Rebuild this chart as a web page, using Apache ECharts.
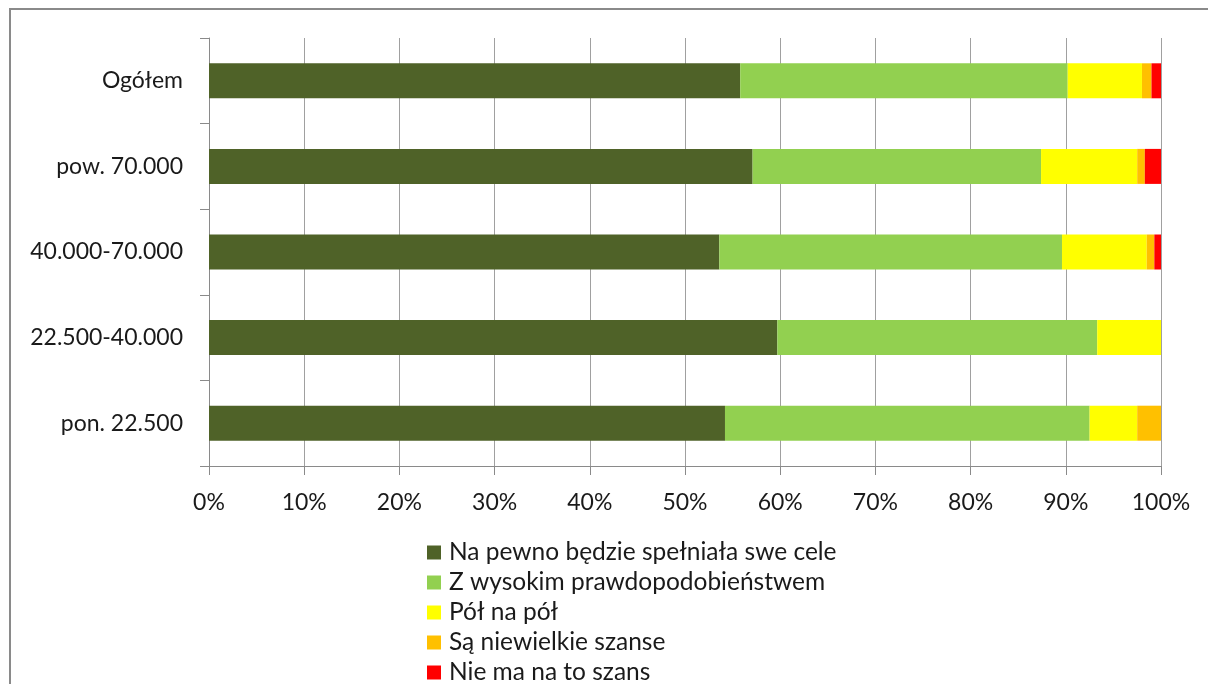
<!DOCTYPE html>
<html>
<head>
<meta charset="utf-8">
<script src="https://cdn.jsdelivr.net/npm/echarts@6/dist/echarts.min.js"></script>
<style>
html, body { margin: 0; padding: 0; background: #ffffff; }
#chart { width: 1208px; height: 684px; }
</style>
</head>
<body>
<div id="chart"></div>
<script>
var categories = ['Ogółem', 'pow. 70.000', '40.000-70.000', '22.500-40.000', 'pon. 22.500'];
var seriesNames = [
    'Na pewno będzie spełniała swe cele',
    'Z wysokim prawdopodobieństwem',
    'Pół na pół',
    'Są niewielkie szanse',
    'Nie ma na to szans'
];
var naPewno = [55.8, 57.1, 53.6, 59.7, 54.2];
var zWysokim = [34.4, 30.3, 36.0, 33.6, 38.3];
var polNaPol = [7.8, 10.1, 8.9, 6.7, 5.0];
var niewielkie = [1.0, 0.8, 0.8, 0, 2.5];
var nieMa = [1.0, 1.7, 0.7, 0, 0];
var xTicks = [0, 10, 20, 30, 40, 50, 60, 70, 80, 90, 100];

var colors = ['#4f6228', '#92d050', '#ffff00', '#ffc000', '#ff0000'];
var fontFamily = 'Lato, "Open Sans", sans-serif';

var chart = echarts.init(document.getElementById('chart'), null, { renderer: 'canvas' });

function barSeries(name, data) {
    return {
        name: name,
        type: 'bar',
        stack: 'total',
        barWidth: 35,
        data: data
    };
}

var option = {
    backgroundColor: '#ffffff',
    animation: false,
    color: colors,
    graphic: [{
        type: 'rect',
        shape: { x: 10, y: 9, width: 1400, height: 900 },
        style: { fill: null, stroke: '#8a8a8a', lineWidth: 2 },
        silent: true
    }],
    legend: {
        orient: 'vertical',
        left: 427,
        top: 540,
        height: 200,
        padding: 0,
        itemWidth: 14,
        itemHeight: 14,
        itemGap: 5,
        icon: 'rect',
        data: seriesNames,
        textStyle: {
            fontFamily: fontFamily,
            fontSize: 24.5,
            color: '#1a1a1a',
            padding: [0, 0, 0, 3]
        }
    },
    grid: {
        left: 209,
        right: 47,
        top: 38,
        bottom: 218,
        containLabel: false
    },
    xAxis: {
        type: 'value',
        min: xTicks[0],
        max: xTicks[xTicks.length - 1],
        interval: 10,
        axisLine: { show: true, lineStyle: { color: '#8a8a8a', width: 1 } },
        axisTick: { show: true, length: 9, lineStyle: { color: '#8a8a8a' } },
        axisLabel: {
            formatter: '{value}%',
            margin: 25,
            fontFamily: fontFamily,
            fontSize: 23,
            color: '#1a1a1a'
        },
        splitLine: { show: true, lineStyle: { color: '#a0a0a0', width: 1 } }
    },
    yAxis: {
        type: 'category',
        inverse: true,
        data: categories,
        axisLine: { show: true, lineStyle: { color: '#8a8a8a', width: 1 } },
        axisTick: { show: true, length: 9, inside: false, lineStyle: { color: '#8a8a8a' } },
        axisLabel: {
            margin: 26,
            fontFamily: fontFamily,
            fontSize: 23,
            color: '#1a1a1a'
        },
        splitLine: { show: false }
    },
    series: [
        barSeries(seriesNames[0], naPewno),
        barSeries(seriesNames[1], zWysokim),
        barSeries(seriesNames[2], polNaPol),
        barSeries(seriesNames[3], niewielkie),
        barSeries(seriesNames[4], nieMa)
    ]
};

chart.setOption(option);
</script>
</body>
</html>
